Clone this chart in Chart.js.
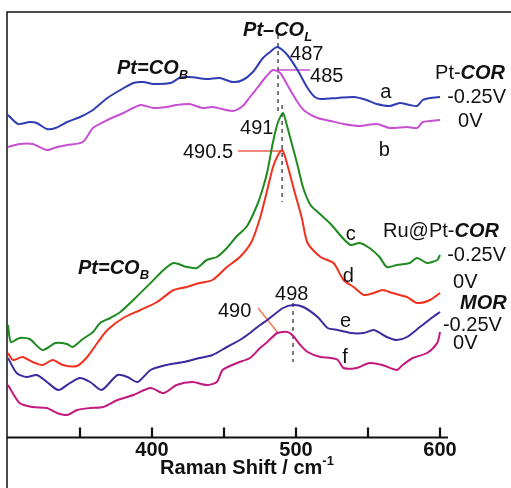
<!DOCTYPE html>
<html>
<head>
<meta charset="utf-8">
<script src="https://cdn.jsdelivr.net/npm/chart.js@4.4.0/dist/chart.umd.min.js"></script>
<style>
  html, body { margin: 0; padding: 0; background: #fff; }
  #wrap { width: 511px; height: 488px; position: relative; }
</style>
</head>
<body>
<div id="wrap"><canvas id="myChart" width="511" height="488"></canvas></div>
<script>
// Raman shift (cm-1) and offset intensity (a.u.)
const shiftA = [300,307,315,320,327,333,341,350,359,369,378,387,394,401,413,419,426,438,447,456,463,470,477,482,487,494,501,508,513,517,529,540,549,556,565,572,579,584,588,593,600];
const intA   = [322,313,315,314,308,309,315,320,327,339,347,354,355,353,354,359,360,358,359,355,357,365,379,385,390,382,367,349,340,338,339,340,337,333,331,334,332,331,337,339,340];

const shiftB = [300,308,317,327,334,341,352,359,369,380,392,401,410,417,426,435,442,456,463,468,473,479,484,489,494,501,506,515,524,533,544,556,565,577,584,588,593,600];
const intB   = [290,293,293,287,290,292,295,309,317,324,332,329,330,332,333,329,330,326,331,340,349,360,367,364,352,335,326,319,316,313,311,313,309,310,309,315,316,317];

const shiftC = [300,302,308,315,324,333,341,345,352,359,364,371,378,387,399,408,415,424,431,438,445,452,459,466,473,477,480,484,487.5,491,493,496,501,505,510,515,524,533,538,544,551,558,563,570,579,584,591,598,600];
const intC   = [112,95,99,98,87,94,93,90,98,105,114,119,125,137,154,167,174,170,169,177,180,189,201,211,232,249,265,295,315,324,315,299,272,249,232,225,213,198,192,194,189,180,170,172,174,179,174,177,182];

const shiftD = [300,303.5,310,317,324,331,338,348,355,362,369,380,392,403.5,415,424,433,442,452,461,469,475,480,484,487.5,490.5,494,499,504,508,517,526,533,540,547,554,560,567,577,584,593,600];
const intD   = [84,77,80,75,72,77,72,71,80,94,107,119,127,135,147,150,154,157,170,180,195,219,247,270,282,287,272,245,219,194,180,174,157,150,142,144,147,144,140,134,137,144];

const shiftE = [300,306,313,320,327,335,343,350,357,365,376,383,390,399,410,422,433,442,452,461,468,475,480,491,498,505,515,522,529,538,547,554,563,570,577,586,595,600];
const intE   = [79,64,60,62,55,47,54,59,55,47,62,60,55,67,72,75,79,82,90,97,104,112,117,129,132,130,120,109,107,104,104,107,100,97,100,110,120,125];

const shiftF = [300,308,317,327,334,341,348,357,366,376,387,399,408,417,428,438,445,449,459,468,475,480,487,494,498,503,508,517,524,529,533,542,551,560,570,574,581,591,598,600];
const intF   = [52,34,30,29,24,22,27,29,30,37,42,49,44,52,55,52,55,67,74,79,89,95,104,105,101,92,85,80,79,77,69,69,74,72,67,72,79,84,94,105];

// guide lines marking the peaks
const guide1X = [487.5, 487.5], guide1Y = [402, 325];
const guide2X = [490.3, 490.3], guide2Y = [332, 235];
const guide3X = [497.9, 497.9], guide3Y = [134, 75];
const lead485X = [487.5, 509.7], lead485Y = [367, 367];
const lead4905X = [459.7, 489.6], lead4905Y = [286, 286];
const lead490X = [473.6, 487.5], lead490Y = [129, 104];

const xTicks = [350, 400, 450, 500, 550, 600];
const xTickLabels = ["", "400", "", "500", "", "600"];

const FONT = '"Liberation Sans", Arial, sans-serif';

const pts = (xs, ys) => xs.map((x, i) => ({ x: x, y: ys[i] }));

const trace = (xs, ys, color) => ({
  data: pts(xs, ys),
  borderColor: color,
  borderWidth: 2,
  pointRadius: 0,
  tension: 0.25,
  fill: false,
});

const guide = (xs, ys, color, dash) => ({
  data: pts(xs, ys),
  borderColor: color,
  borderWidth: 1.3,
  borderDash: dash ? [4, 4] : [],
  pointRadius: 0,
  tension: 0,
  fill: false,
});

// text labels, positions in data units
const BI = "italic bold 20px " + FONT;
const BIsub = "italic bold 13px " + FONT;
const R = "20px " + FONT;
const labels = [
  { x: 375.7, y: 369, runs: [{ t: "Pt=CO", f: BI }, { t: "B", f: BIsub, dy: 7 }] },
  { x: 463.2, y: 407, runs: [{ t: "Pt\u2013CO", f: BI }, { t: "L", f: BIsub, dy: 7 }] },
  { x: 348.6, y: 169, runs: [{ t: "Pt=CO", f: BI }, { t: "B", f: BIsub, dy: 7 }] },
  { x: 495.8, y: 383, runs: [{ t: "487", f: R }] },
  { x: 509.7, y: 361, runs: [{ t: "485", f: R }] },
  { x: 461.1, y: 309, runs: [{ t: "491", f: R }] },
  { x: 421.5, y: 285, runs: [{ t: "490.5", f: R }] },
  { x: 485.4, y: 143, runs: [{ t: "498", f: R }] },
  { x: 445.8, y: 126, runs: [{ t: "490", f: R }] },
  { x: 558.5, y: 345, runs: [{ t: "a", f: R }] },
  { x: 557.5, y: 287, runs: [{ t: "b", f: R }] },
  { x: 534.5, y: 203, runs: [{ t: "c", f: R }] },
  { x: 532.5, y: 161, runs: [{ t: "d", f: R }] },
  { x: 530.5, y: 116, runs: [{ t: "e", f: R }] },
  { x: 532, y: 80, runs: [{ t: "f", f: R }] },
  { x: 596.5, y: 364, runs: [{ t: "Pt-", f: R }, { t: "COR", f: BI }] },
  { x: 604.9, y: 340, runs: [{ t: "-0.25V", f: R }] },
  { x: 612.5, y: 316, runs: [{ t: "0V", f: R }] },
  { x: 560.4, y: 206, runs: [{ t: "Ru@Pt-", f: R }, { t: "COR", f: BI }] },
  { x: 604.9, y: 182, runs: [{ t: "-0.25V", f: R }] },
  { x: 609, y: 155, runs: [{ t: "0V", f: R }] },
  { x: 613.9, y: 134, runs: [{ t: "MOR", f: BI }] },
  { x: 602, y: 112, runs: [{ t: "-0.25V", f: R }] },
  { x: 609, y: 94, runs: [{ t: "0V", f: R }] },
];

function drawRuns(ctx, runs, x, y, align) {
  let w = 0;
  runs.forEach((r) => { ctx.font = r.f; w += ctx.measureText(r.t).width; });
  let cx = align === "center" ? x - w / 2 : x;
  runs.forEach((r) => {
    ctx.font = r.f;
    ctx.fillText(r.t, cx, y + (r.dy || 0));
    cx += ctx.measureText(r.t).width;
  });
}

const decor = {
  id: "decor",
  afterDraw(chart) {
    const ctx = chart.ctx;
    const xs = chart.scales.x, ys = chart.scales.y;
    const axisY = chart.chartArea.bottom + 0.5;
    ctx.save();
    ctx.strokeStyle = "#111";
    ctx.fillStyle = "#111";
    // frame on top and left
    ctx.lineWidth = 1.5;
    ctx.beginPath();
    ctx.moveTo(7, 488);
    ctx.lineTo(7, 12);
    ctx.lineTo(511, 12);
    ctx.stroke();
    // x axis line and inward ticks
    ctx.lineWidth = 2.2;
    ctx.beginPath();
    ctx.moveTo(7, axisY);
    ctx.lineTo(xs.getPixelForValue(605.5), axisY);
    ctx.stroke();
    ctx.textAlign = "center";
    ctx.textBaseline = "middle";
    xTicks.forEach((v, i) => {
      const px = Math.round(xs.getPixelForValue(v));
      ctx.beginPath();
      ctx.moveTo(px, axisY);
      ctx.lineTo(px, axisY - 10);
      ctx.stroke();
      ctx.font = "bold 20px " + FONT;
      ctx.fillText(xTickLabels[i], px, 450);
    });
    // axis title
    ctx.textAlign = "left";
    drawRuns(ctx, [
      { t: "Raman Shift / cm", f: "bold 20px " + FONT },
      { t: "-1", f: "bold 13px " + FONT, dy: -7 },
    ], 247, 468, "center");
    // annotations
    labels.forEach((l) => {
      drawRuns(ctx, l.runs, xs.getPixelForValue(l.x), ys.getPixelForValue(l.y), "left");
    });
    ctx.restore();
  },
};

new Chart(document.getElementById("myChart"), {
  type: "line",
  data: {
    datasets: [
      trace(shiftA, intA, "#2f3db3"),
      trace(shiftB, intB, "#c64fd2"),
      trace(shiftC, intC, "#1f8a1f"),
      trace(shiftD, intD, "#f1301d"),
      trace(shiftE, intE, "#3b2b9e"),
      trace(shiftF, intF, "#c3197f"),
      guide(guide1X, guide1Y, "#333", true),
      guide(guide2X, guide2Y, "#333", true),
      guide(guide3X, guide3Y, "#333", true),
      guide(lead485X, lead485Y, "#c64fd2", false),
      guide(lead4905X, lead4905Y, "#f06050", false),
      guide(lead490X, lead490Y, "#f07050", false),
    ],
  },
  options: {
    responsive: false,
    animation: false,
    devicePixelRatio: 1,
    layout: { padding: { left: 8, right: 63, top: 12, bottom: 51 } },
    plugins: { legend: { display: false }, tooltip: { enabled: false } },
    scales: {
      x: { type: "linear", min: 300, max: 605.5, display: false },
      y: { min: 0, max: 425, display: false },
    },
  },
  plugins: [decor],
});
</script>
</body>
</html>
